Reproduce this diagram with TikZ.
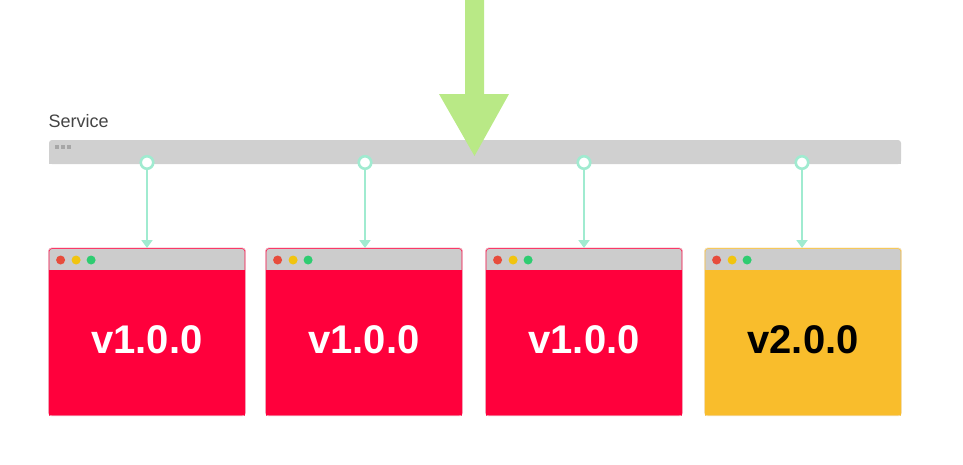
\documentclass[tikz,border=0pt]{standalone}
\usepackage{fontspec}
\setmainfont{Liberation Sans}
\usetikzlibrary{arrows.meta,calc}

\definecolor{bargray}{HTML}{D0D0D0}
\definecolor{bardot}{HTML}{A6A6A6}
\definecolor{titlegray}{HTML}{CCCCCC}
\definecolor{oldred}{HTML}{FF003C}
\definecolor{oldedge}{HTML}{F2A2B6}
\definecolor{newyellow}{HTML}{F9BD2C}
\definecolor{newedge}{HTML}{F3DDB0}
\definecolor{dotred}{HTML}{E74C3C}
\definecolor{dotyellow}{HTML}{F1C40F}
\definecolor{dotgreen}{HTML}{2ECC71}
\definecolor{mint}{HTML}{A0EBD0}
\definecolor{traffic}{HTML}{B9E986}
\definecolor{labelgray}{HTML}{444444}

\tikzset{
  podbox/.style={rectangle, rounded corners=3pt, fill=titlegray, line width=0.8pt,
    minimum width=196pt, minimum height=167pt, inner sep=0pt},
  podtext/.style={font=\bfseries\fontsize{40}{44}\selectfont, inner sep=0pt},
  port/.style={circle, draw=mint, fill=white, line width=2.6pt, minimum size=12.5pt, inner sep=0pt},
  link/.style={draw=mint, line width=2.2pt, -{Triangle[width=11pt,length=8pt]}},
  winbtn/.style={circle, minimum size=9pt, inner sep=0pt},
}

% one pod window: name, centre x, body colour, edge colour, text colour, label
\newcommand\podwindow[6]{%
  \node[podbox, draw=#3, anchor=north] (#1) at (#2,248) {};
  \fill[#3] ($(#1.north west)+(0,22)$) rectangle (#1.south east);
  \draw[#4, line width=0.8pt, rounded corners=3pt]
    (#1.south west) -- (#1.north west) -- (#1.north east) -- (#1.south east) -- cycle;
  \fill[#3] ($(#1.north west)+(0.4,22)$) rectangle ($(#1.south east)+(-0.4,-0.4)$);
  \node[winbtn, fill=dotred]    (#1r) at ($(#1.north west)+(12,12)$) {};
  \node[winbtn, fill=dotyellow] (#1y) at ($(#1.north west)+(27.5,12)$) {};
  \node[winbtn, fill=dotgreen]  (#1g) at ($(#1.north west)+(42.5,12)$) {};
  \node[podtext, text=#5] (#1t) at ($(#1.south)!0.5!(#1.north)+(0,7.5)$) {#6};
}

\begin{document}
\begin{tikzpicture}[x=1pt,y=-1pt]
  \useasboundingbox (0,0) rectangle (963,464);

  % service label and bar
  \node[anchor=base west, inner sep=0pt, text=labelgray,
        font=\fontsize{18}{20}\selectfont] (svclabel) at (48.5,127.5) {Service};
  \fill[bargray, rounded corners=3pt] (49,164) -- (49,140) -- (901,140) -- (901,164) -- cycle;
  \fill[bargray] (49,150) rectangle (901,164);
  \foreach \dx in {0,6,12}
    \fill[bardot] (55+\dx,145) rectangle (59+\dx,149);

  % pods behind the service
  \podwindow{podA}{147}{oldred}{oldedge}{white}{v1.0.0}
  \podwindow{podB}{364}{oldred}{oldedge}{white}{v1.0.0}
  \podwindow{podC}{584}{oldred}{oldedge}{white}{v1.0.0}
  \podwindow{podD}{803}{newyellow}{newedge}{black}{v2.0.0}

  % endpoints on the service and links to the pods
  \foreach \p/\x/\b in {pA/147/podA, pB/365/podB, pC/584/podC, pD/802/podD}{
    \node[port] (\p) at (\x,162.5) {};
    \draw[link] (\p.south) -- (\p.south |- \b.north);
  }

  % incoming traffic
  \fill[traffic] (465,0) -- (484,0) -- (484,94) -- (509,94) -- (474.5,156)
    -- (439,94) -- (465,94) -- cycle;
\end{tikzpicture}
\end{document}
